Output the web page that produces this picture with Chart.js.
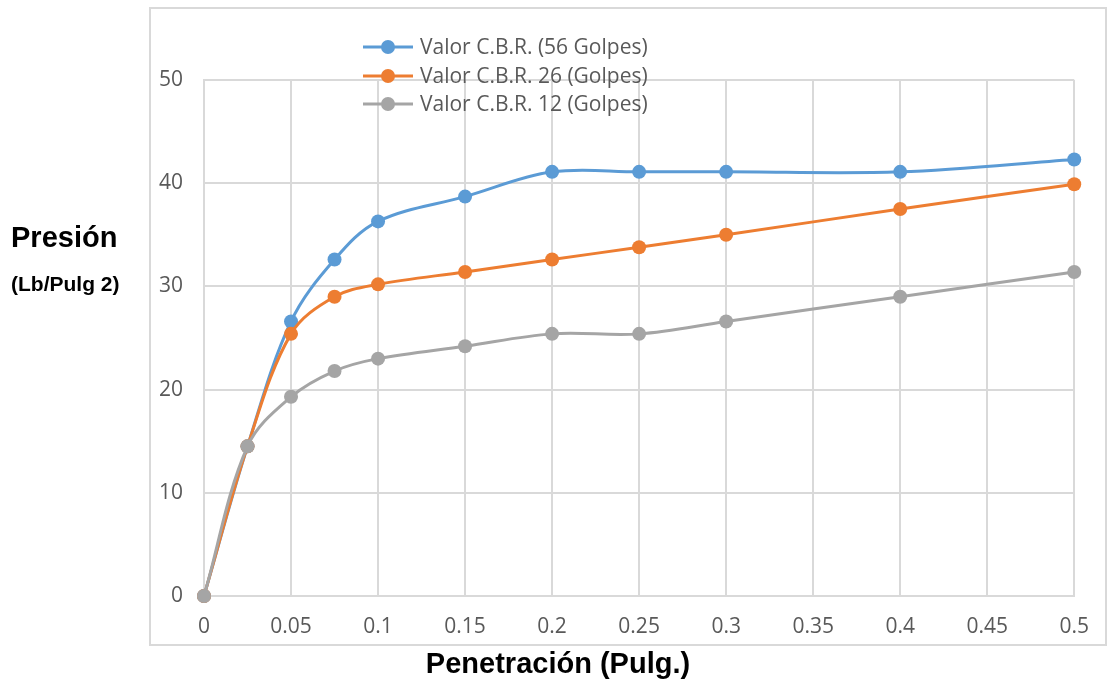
<!DOCTYPE html>
<html>
<head>
<meta charset="utf-8">
<script src="https://cdn.jsdelivr.net/npm/chart.js@4/dist/chart.umd.min.js"></script>
<style>
  html, body { margin: 0; padding: 0; background: #fff; }
  #wrap { width: 1107px; height: 686px; position: relative; }
</style>
</head>
<body>
<div id="wrap"><canvas id="cbrChart"></canvas></div>
<script>
// penetración (pulg.) y presión (lb/pulg 2) para cada energía de compactación
const penetracion = [0, 0.025, 0.05, 0.075, 0.1, 0.15, 0.2, 0.25, 0.3, 0.4, 0.5];
const golpes56 = [0, 14.5, 26.6, 32.6, 36.3, 38.7, 41.1, 41.1, 41.1, 41.1, 42.3];
const golpes26 = [0, 14.5, 25.4, 29.0, 30.2, 31.4, 32.6, 33.8, 35.0, 37.5, 39.9];
const golpes12 = [0, 14.5, 19.3, 21.8, 23.0, 24.2, 25.4, 25.4, 26.6, 29.0, 31.4];
const seriesNames = ['Valor C.B.R. (56 Golpes)', 'Valor C.B.R. 26 (Golpes)', 'Valor C.B.R. 12 (Golpes)'];
const seriesColors = ['#5B9BD5', '#ED7D31', '#A5A5A5'];
const xTicks = [0, 0.05, 0.1, 0.15, 0.2, 0.25, 0.3, 0.35, 0.4, 0.45, 0.5];
const yTicks = [0, 10, 20, 30, 40, 50];

const gridColor = '#D9D9D9';
const textColor = '#595959';

function toPoints(values) {
  return penetracion.map((x, i) => ({ x: x, y: values[i] }));
}

const datasets = [golpes56, golpes26, golpes12].map((vals, i) => ({
  label: seriesNames[i],
  data: toPoints(vals),
  borderColor: seriesColors[i],
  backgroundColor: seriesColors[i],
  borderWidth: 3,
  pointRadius: 7,
  pointHoverRadius: 7,
  pointBorderWidth: 0,
  tension: 0.35,
  fill: false,
  clip: false,
}));
// gray series drawn last so it sits on top
datasets.reverse();

// outer frame, axis titles and the legend
const decorations = {
  id: 'decorations',
  beforeDraw(chart) {
    const ctx = chart.ctx;
    ctx.save();
    ctx.fillStyle = '#fff';
    ctx.fillRect(0, 0, chart.width, chart.height);
    ctx.strokeStyle = gridColor;
    ctx.lineWidth = 2;
    ctx.strokeRect(150, 8, 956, 637);
    ctx.restore();
  },
  afterDraw(chart) {
    const ctx = chart.ctx;
    ctx.save();
    ctx.fillStyle = '#000';
    ctx.textBaseline = 'middle';
    ctx.textAlign = 'left';
    ctx.font = 'bold 29px "Liberation Sans", Arial, sans-serif';
    ctx.fillText('Presión', 11, 239);
    ctx.font = 'bold 21px "Liberation Sans", Arial, sans-serif';
    ctx.fillText('(Lb/Pulg 2)', 11, 285);

    ctx.textAlign = 'center';
    ctx.font = 'bold 29px "Liberation Sans", Arial, sans-serif';
    ctx.fillText('Penetración (Pulg.)', 558, 665);

    // legend: line with marker, then the label
    const rowsY = [47, 76, 104];
    ctx.textAlign = 'left';
    seriesNames.forEach((name, i) => {
      const y = rowsY[i];
      ctx.strokeStyle = seriesColors[i];
      ctx.fillStyle = seriesColors[i];
      ctx.lineWidth = 3;
      ctx.beginPath();
      ctx.moveTo(363, y);
      ctx.lineTo(413, y);
      ctx.stroke();
      ctx.beginPath();
      ctx.arc(388, y, 7, 0, Math.PI * 2);
      ctx.fill();
      ctx.fillStyle = textColor;
      ctx.font = '21px "Open Sans", sans-serif';
      ctx.fillText(name, 420, y + 1);
    });
    ctx.restore();
  }
};

const ctx = document.getElementById('cbrChart').getContext('2d');
const cbrChart = new Chart(ctx, {
  type: 'line',
  data: { datasets: datasets },
  options: {
    responsive: true,
    maintainAspectRatio: false,
    animation: false,
    layout: { padding: { top: 80, right: 31, bottom: 0, left: 0 } },
    plugins: {
      legend: { display: false },
      tooltip: { enabled: false },
    },
    scales: {
      x: {
        type: 'linear',
        min: 0,
        max: 0.5,
        afterFit(scale) { scale.height = 90; },
        afterBuildTicks(scale) { scale.ticks = xTicks.map(v => ({ value: v })); },
        border: { display: true, color: gridColor, width: 2 },
        grid: { color: gridColor, lineWidth: 2, drawTicks: false },
        ticks: {
          padding: 18,
          color: textColor,
          font: { family: '"Open Sans", sans-serif', size: 21 },
          maxRotation: 0,
          callback: v => String(v),
        },
      },
      y: {
        min: 0,
        max: 50,
        afterFit(scale) { scale.width = 204; },
        afterBuildTicks(scale) { scale.ticks = yTicks.map(v => ({ value: v })); },
        border: { display: true, color: gridColor, width: 2 },
        grid: { color: gridColor, lineWidth: 2, drawTicks: false },
        ticks: {
          padding: 21,
          color: textColor,
          font: { family: '"Open Sans", sans-serif', size: 21 },
        },
      },
    },
  },
  plugins: [decorations],
});
</script>
</body>
</html>
